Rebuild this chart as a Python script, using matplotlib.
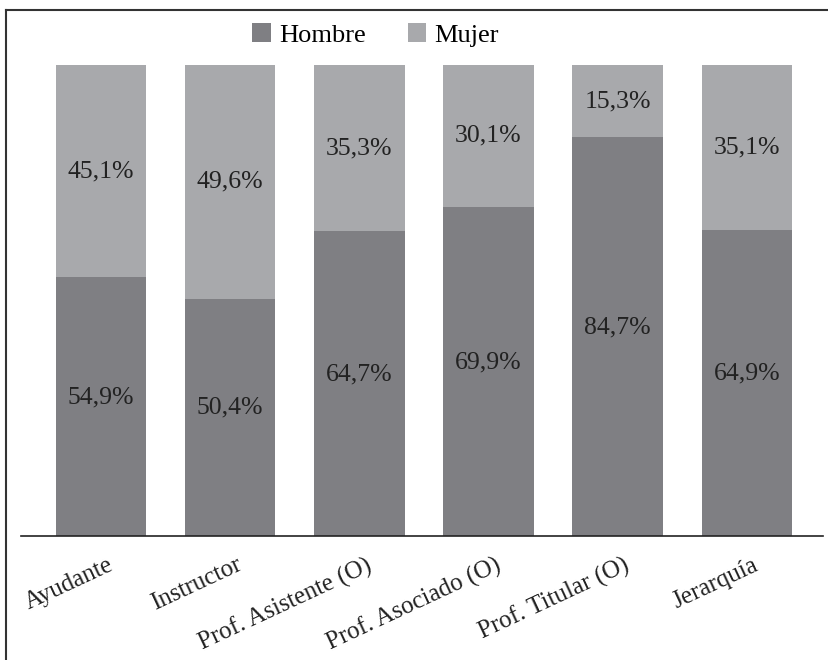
import matplotlib.pyplot as plt
from matplotlib.lines import Line2D
from matplotlib.transforms import ScaledTranslation

categorias = ['Ayudante', 'Instructor', 'Prof. Asistente (O)',
              'Prof. Asociado (O)', 'Prof. Titular (O)', 'Jerarquía']
hombre = [54.9, 50.4, 64.7, 69.9, 84.7, 64.9]
mujer = [45.1, 49.6, 35.3, 30.1, 15.3, 35.1]

COLOR_H = '#7f7f83'
COLOR_M = '#a8a9ac'

plt.rcParams['font.family'] = ['Liberation Serif', 'DejaVu Serif']

fig = plt.figure(figsize=(8.29, 6.6), dpi=100)
ax = fig.add_axes([0.0253, 0.1879, 0.9675, 0.7136])

x = list(range(len(categorias)))
ancho = 0.70
b1 = ax.bar(x, hombre, ancho, color=COLOR_H, label='Hombre')
b2 = ax.bar(x, mujer, ancho, bottom=hombre, color=COLOR_M, label='Mujer')

def fmt(v):
    return f'{v:.1f}'.replace('.', ',') + '%'

for i in x:
    ax.text(i, hombre[i] / 2 + 2, fmt(hombre[i]), ha='center', va='center',
            fontsize=18.5, color='#222222')
    ax.text(i, hombre[i] + mujer[i] / 2, fmt(mujer[i]), ha='center', va='center',
            fontsize=18.5, color='#222222')

ax.set_xlim(-0.62, 5.59)
ax.set_ylim(0, 100)
ax.set_xticks(x)
ax.set_xticklabels(categorias, rotation=25, ha='right', rotation_mode='anchor',
                   fontsize=18, color='#222222')
ax.tick_params(axis='x', length=0, pad=13)
# desplazar un poco las etiquetas a la derecha
offset = ScaledTranslation(6 / 100, 0, fig.dpi_scale_trans)
for lbl in ax.get_xticklabels():
    lbl.set_transform(lbl.get_transform() + offset)
ax.set_yticks([])
for s in ['top', 'right', 'left']:
    ax.spines[s].set_visible(False)
ax.spines['bottom'].set_linewidth(1.2)
ax.spines['bottom'].set_color('#222222')

fig.legend(handles=[b1, b2], loc='center', bbox_to_anchor=(0.453, 0.947),
           ncol=2, frameon=False, fontsize=19, handlelength=0.7,
           handleheight=0.7, handletextpad=0.3, columnspacing=1.6)

# marco de la figura (solo arriba e izquierda)
fig.add_artist(Line2D([6.5 / 829, 1], [1 - 9.5 / 660] * 2, color='#333333', lw=1.5,
                      transform=fig.transFigure))
fig.add_artist(Line2D([6.5 / 829] * 2, [0, 1 - 9.5 / 660], color='#333333', lw=1.5,
                      transform=fig.transFigure))

fig.savefig('out.png', dpi=100)
